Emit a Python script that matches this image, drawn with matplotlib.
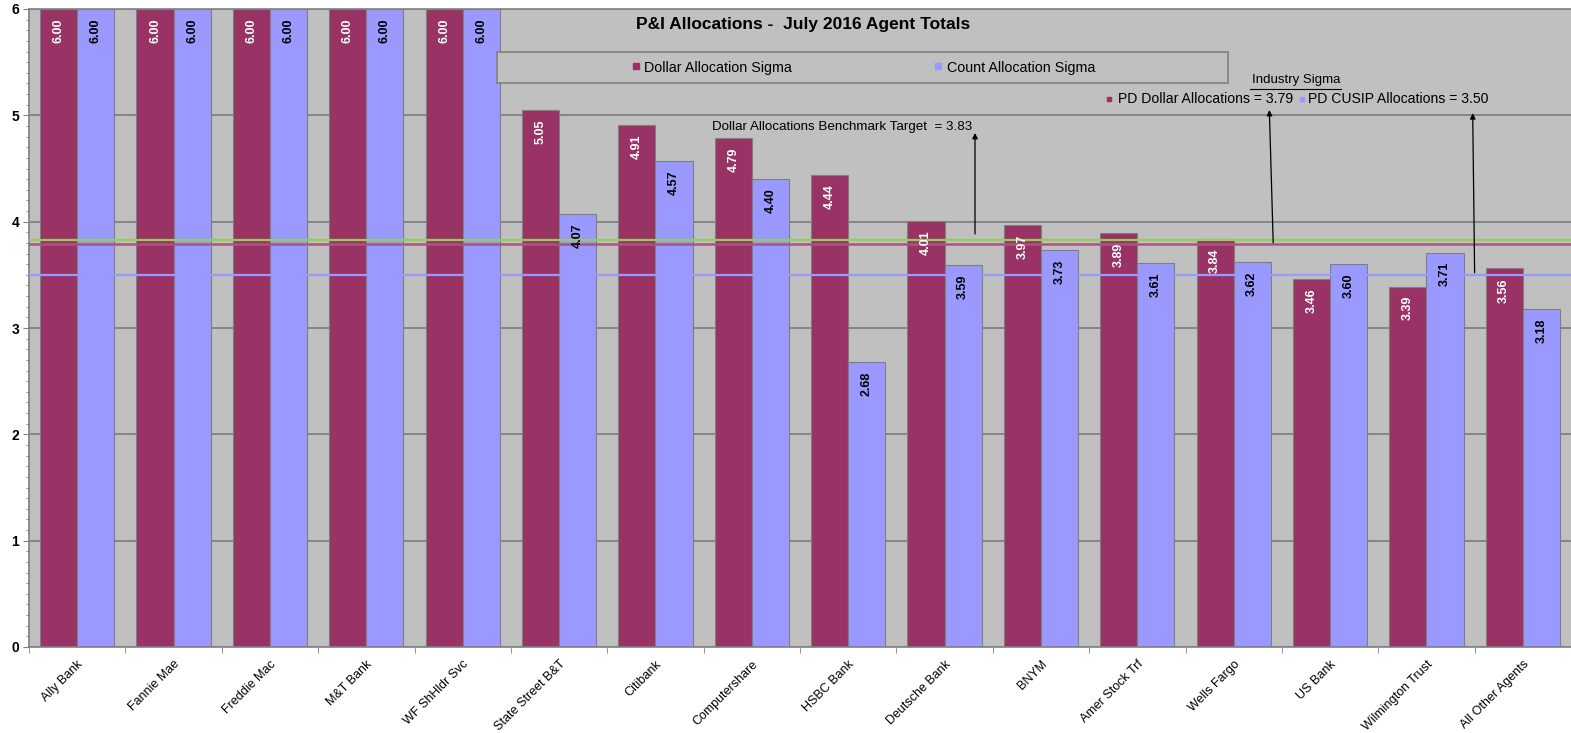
import numpy as np
import matplotlib
matplotlib.use("Agg")
import matplotlib.pyplot as plt
from matplotlib.patches import Rectangle
from matplotlib.lines import Line2D

plt.rcParams['font.family'] = ['Liberation Sans', 'DejaVu Sans']

agentes = ['Ally Bank', 'Fannie Mae', 'Freddie Mac', 'M&T Bank', 'WF ShHldr Svc',
           'State Street B&T', 'Citibank', 'Computershare', 'HSBC Bank', 'Deutsche Bank',
           'BNYM', 'Amer Stock Trf', 'Wells Fargo', 'US Bank', 'Wilmington Trust',
           'All Other Agents']
sigma_dolar = [6.00, 6.00, 6.00, 6.00, 6.00, 5.05, 4.91, 4.79, 4.44, 4.01,
               3.97, 3.89, 3.84, 3.46, 3.39, 3.56]
sigma_contagem = [6.00, 6.00, 6.00, 6.00, 6.00, 4.07, 4.57, 4.40, 2.68, 3.59,
                  3.73, 3.61, 3.62, 3.60, 3.71, 3.18]

meta_dolar = 3.83
industria_dolar = 3.79
industria_cusip = 3.50

cor_dolar = '#993366'
cor_contagem = '#9999FF'
cor_fundo = '#C0C0C0'

fig = plt.figure(figsize=(15.71, 7.33), dpi=100)
ax = fig.add_axes([29 / 1571, 86 / 733, 1542 / 1571, 638 / 733])
ax.set_facecolor(cor_fundo)

x = np.arange(len(agentes))
largura = 0.385

ax.bar(x - largura / 2, sigma_dolar, largura, color=cor_dolar,
       edgecolor='#7F7F7F', linewidth=0.8, zorder=2)
ax.bar(x + largura / 2, sigma_contagem, largura, color=cor_contagem,
       edgecolor='#7F7F7F', linewidth=0.8, zorder=2)

# rotulos das barras
for xi, v in zip(x, sigma_dolar):
    ax.text(xi - largura / 2, v - 0.09, f'{v:.2f}', rotation=90, color='white',
            fontsize=9, fontweight='bold', ha='center', va='top', zorder=4)
for xi, v in zip(x, sigma_contagem):
    ax.text(xi + largura / 2, v - 0.09, f'{v:.2f}', rotation=90, color='black',
            fontsize=9, fontweight='bold', ha='center', va='top', zorder=4)

# linhas de referencia
ax.axhline(meta_dolar, color='#92D050', linewidth=1.6, zorder=3)
ax.axhline(industria_dolar, color='#A8567F', linewidth=1.8, zorder=3)
ax.axhline(industria_cusip, color='#9999FF', linewidth=1.6, zorder=3)

ax.set_xlim(-0.5, len(agentes) - 0.5)
ax.set_ylim(0, 6)
ax.set_yticks(np.arange(0, 7, 1))
ax.set_yticks(np.arange(0, 6.01, 0.1), minor=True)
ax.grid(axis='y', which='major', color='#808080', linewidth=1.3, zorder=0)
ax.set_axisbelow(True)

ax.set_xticks(x)
ax.set_xticklabels(agentes, rotation=45, ha='right', va='top',
                   rotation_mode='anchor', fontsize=9)
ax.set_xticks(np.arange(-0.5, len(agentes), 1), minor=True)
ax.tick_params(axis='x', which='major', length=0, pad=8)
ax.tick_params(axis='x', which='minor', length=4, color='#808080')
ax.tick_params(axis='y', which='major', length=4, color='#808080', labelsize=10, pad=3)
ax.tick_params(axis='y', which='minor', length=2, color='#808080')
for rot in ax.get_yticklabels():
    rot.set_fontweight('bold')

for lado in ['left', 'bottom', 'top']:
    ax.spines[lado].set_color('#808080')
    ax.spines[lado].set_linewidth(1.2)
ax.spines['right'].set_visible(False)

ax.text(0.502, 0.975, 'P&I Allocations -  July 2016 Agent Totals', transform=ax.transAxes,
        ha='center', va='center', fontsize=12.5, fontweight='bold')

# caixa da legenda
ax.add_patch(Rectangle((0.3035, 0.884), 0.4741, 0.0486, transform=ax.transAxes,
                       facecolor=cor_fundo, edgecolor='#808080', linewidth=1.2, zorder=5))
itens = [Line2D([], [], marker='s', linestyle='none', markersize=5, color=cor_dolar),
         Line2D([], [], marker='s', linestyle='none', markersize=5, color=cor_contagem)]
leg = ax.legend(itens, ['Dollar Allocation Sigma', 'Count Allocation Sigma'], ncol=2,
                loc='center', bbox_to_anchor=(0.5405, 0.9083), frameon=False,
                fontsize=10.3, handletextpad=0.2, columnspacing=9.8, handlelength=0.8)
leg.set_zorder(6)

ax.text(0.443, 0.815, 'Dollar Allocations Benchmark Target  = 3.83', transform=ax.transAxes,
        ha='left', va='center', fontsize=9.6, zorder=5)
ax.annotate('', xy=(9.316, 4.834), xytext=(9.316, 3.884),
            arrowprops=dict(arrowstyle='-|>', color='black', linewidth=0.9,
                            mutation_scale=8, shrinkA=0, shrinkB=0), zorder=5)

ax.text(0.8217, 0.8887, 'Industry Sigma', transform=ax.transAxes,
        ha='center', va='center', fontsize=9.5, zorder=5)
ax.plot([0.7918, 0.8509], [0.8746, 0.8746], transform=ax.transAxes,
        color='black', linewidth=0.8, zorder=5)
ax.plot([0.7004], [0.8590], marker='s', markersize=3.5, color=cor_dolar,
        transform=ax.transAxes, zorder=5, clip_on=False)
ax.text(0.7063, 0.8590, 'PD Dollar Allocations = 3.79', transform=ax.transAxes,
        ha='left', va='center', fontsize=10.1, zorder=5)
ax.plot([0.8256], [0.8590], marker='s', markersize=3.5, color=cor_contagem,
        transform=ax.transAxes, zorder=5, clip_on=False)
ax.text(0.8294, 0.8590, 'PD CUSIP Allocations = 3.50', transform=ax.transAxes,
        ha='left', va='center', fontsize=10.1, zorder=5)

ax.annotate('', xy=(12.37, 5.05), xytext=(12.41, 3.80),
            arrowprops=dict(arrowstyle='-|>', color='black', linewidth=0.9,
                            mutation_scale=8, shrinkA=0, shrinkB=0), zorder=5)
ax.annotate('', xy=(14.48, 5.02), xytext=(14.50, 3.52),
            arrowprops=dict(arrowstyle='-|>', color='black', linewidth=0.9,
                            mutation_scale=8, shrinkA=0, shrinkB=0), zorder=5)

fig.savefig('out.png', dpi=100, facecolor='white')
